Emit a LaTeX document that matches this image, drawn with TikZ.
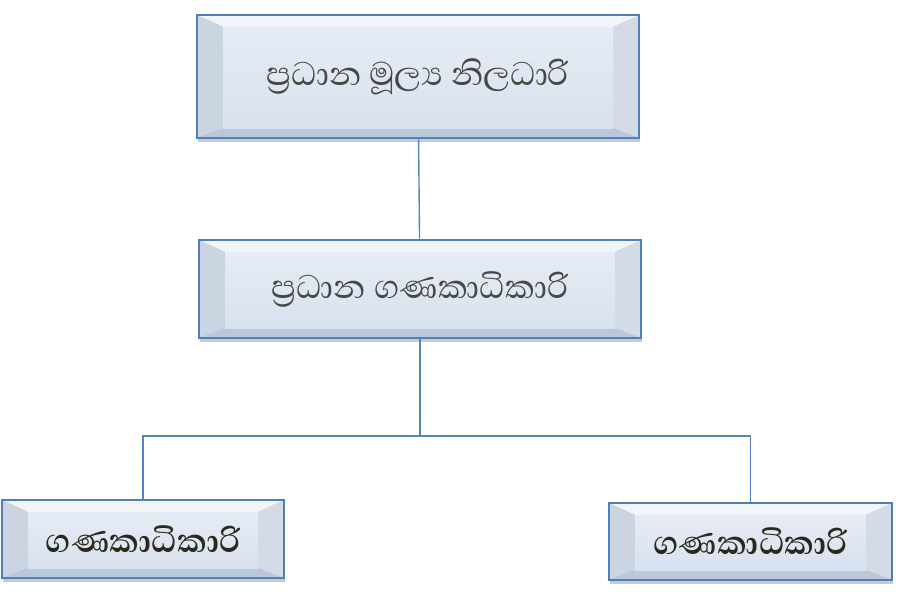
\documentclass[tikz,border=0pt]{standalone}
\usepackage{fontspec}
\newfontfamily\sinhala[Script=Sinhala]{Abhaya Libre}
\usetikzlibrary{calc,shadows}
\definecolor{boxedge}{HTML}{4F7FBF}
\definecolor{linkblue}{HTML}{5585C0}
\definecolor{bevtop}{HTML}{F1F4F9}
\definecolor{bevleft}{HTML}{CBD4E1}
\definecolor{bevright}{HTML}{D3DBE6}
\definecolor{bevbottom}{HTML}{BBC8D9}
\definecolor{faceup}{HTML}{E6ECF5}
\definecolor{facedown}{HTML}{D8E1EE}
\definecolor{greytext}{HTML}{474747}
\definecolor{darktext}{HTML}{2A2A1C}
\tikzset{
  bevelbox/.style={draw=boxedge, line width=2.8pt, inner sep=0pt,
    drop shadow={shadow xshift=1pt, shadow yshift=-4pt, opacity=0.35, fill=black!60},
    path picture={
      \coordinate (bsw) at (path picture bounding box.south west);
      \coordinate (bne) at (path picture bounding box.north east);
      \coordinate (isw) at ($(bsw)+(26pt,10pt)$);
      \coordinate (ine) at ($(bne)+(-26pt,-12pt)$);
      \fill[bevtop] (bsw|-bne) -- (bne) -- (ine) -- (isw|-ine) -- cycle;
      \fill[bevleft] (bsw) -- (bsw|-bne) -- (isw|-ine) -- (isw) -- cycle;
      \fill[bevright] (bne|-bsw) -- (bne) -- (ine) -- (ine|-isw) -- cycle;
      \fill[bevbottom] (bsw) -- (bne|-bsw) -- (ine|-isw) -- (isw) -- cycle;
      \shade[top color=faceup, bottom color=facedown] (isw) rectangle (ine);
    }},
  link/.style={draw=linkblue, line width=1.4pt},
}
\begin{document}
\begin{tikzpicture}[x=1pt,y=-1pt]
\useasboundingbox (0,0) rectangle (901,595);
\node[bevelbox, minimum width=442pt, minimum height=123pt, text=greytext,
      font=\sinhala\fontsize{42}{46}\selectfont] (cfo) at (418,76.5)
      {ප්^^^^200dරධාන මූල්^^^^200dය නිලධාරි};
\node[bevelbox, minimum width=442pt, minimum height=98pt, text=greytext,
      font=\sinhala\fontsize{42}{46}\selectfont] (chief) at (420,289)
      {ප්^^^^200dරධාන ගණකාධිකාරි};
\node[bevelbox, minimum width=282pt, minimum height=78pt, text=darktext,
      font=\sinhala\bfseries\fontsize{42}{46}\selectfont] (accleft) at (143,539)
      {ගණකාධිකාරි};
\node[bevelbox, minimum width=283pt, minimum height=77pt, text=darktext,
      font=\sinhala\bfseries\fontsize{42}{46}\selectfont] (accright) at (750.5,541.5)
      {ගණකාධිකාරි};
\coordinate (split) at (420,436);
\draw[link] (cfo) -- (chief);
\draw[link] (chief) -- (split);
\draw[link] (split) -| (accleft);
\draw[link] (split) -| (accright);
\end{tikzpicture}
\end{document}
